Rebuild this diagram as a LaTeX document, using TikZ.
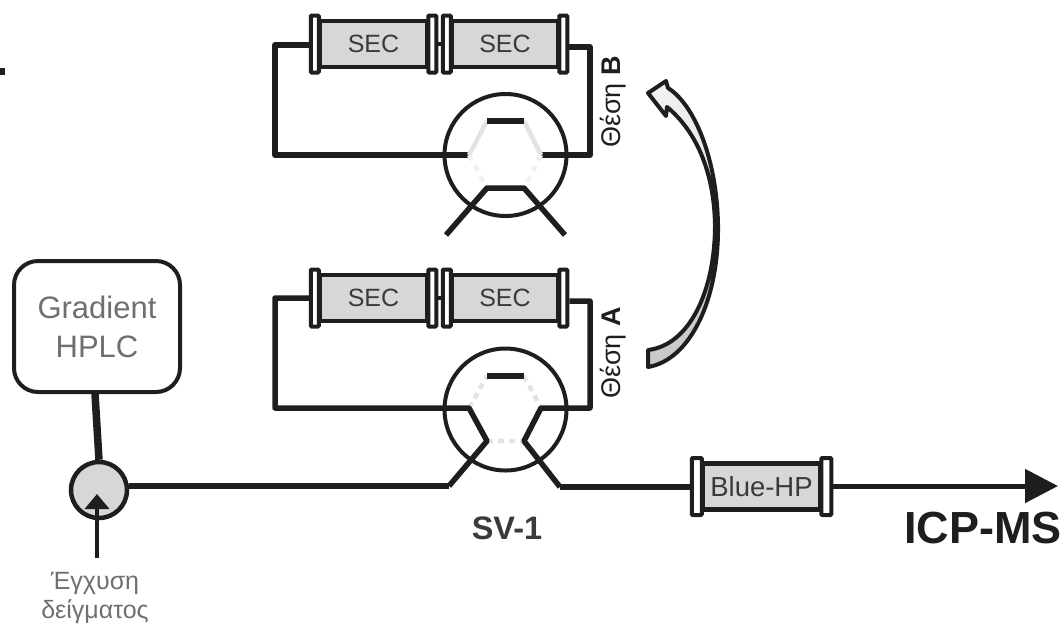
\documentclass[tikz,border=0pt]{standalone}
\usepackage{fontspec}
\setmainfont{Liberation Sans}
\usetikzlibrary{arrows.meta,calc}
\definecolor{colfill}{HTML}{D6D7D9}
\definecolor{ink}{HTML}{1E1E1E}
\definecolor{softtext}{HTML}{3A3A3A}
\definecolor{greytext}{HTML}{6E6F71}
\definecolor{ghost}{HTML}{E2E3E4}
\definecolor{fainter}{HTML}{F1F1F2}
\tikzset{
  coltext/.style={font=\fontsize{25}{28}\selectfont,text=softtext},
  colbody/.style={draw=ink,line width=4.5pt,fill=colfill,inner sep=0pt,coltext,anchor=center},
  flange/.style={draw=ink,line width=4pt,fill=white,rounded corners=1pt,inner sep=0pt,minimum width=8pt,minimum height=57pt},
  tube/.style={draw=ink,line width=5.5pt,line join=round},
  valvecircle/.style={circle,draw=ink,line width=4pt,minimum size=122pt,inner sep=0pt},
  ghostline/.style={draw=ghost,line width=4.5pt},
  ghostdash/.style={draw=ghost,line width=4.5pt,dash pattern=on 6pt off 5pt},
  faintdash/.style={draw=fainter,line width=4.5pt,dash pattern=on 6pt off 6pt},
  bar/.style={draw=ink,line width=5.5pt},
  stub/.style={draw=ink,line width=5.5pt,line join=round},
  lab/.style={font=\fontsize{27}{30}\selectfont,text=ink,inner sep=0pt},
}
% name, centre x, centre y, inner width, text
\newcommand{\columnunit}[5]{%
  \node[colbody,minimum width=#4pt,minimum height=46pt] (#1) at (#2,#3) {#5};
  \node[flange,anchor=east] (#1L) at ($(#1.west)+(3,0)$) {};
  \node[flange,anchor=west] (#1R) at ($(#1.east)+(-3,0)$) {};
}
\begin{document}
\begin{tikzpicture}[x=1pt,y=-1pt]
\useasboundingbox (0,0) rectangle (1064,625);
\fill[ink] (0,68) rectangle (5,75);

% ---------- upper position B
\coordinate (bTL) at (275,45);
\coordinate (bBL) at (275,155);
\coordinate (bTR) at (590,47);
\coordinate (bBR) at (590,155);
\coordinate (bA) at (487,121);
\coordinate (bB) at (524,121);
\coordinate (bC) at (541,155);
\coordinate (bD) at (524,188);
\coordinate (bE) at (487,188);
\coordinate (bF) at (469,155);
\coordinate (bOutL) at (446,235);
\coordinate (bOutR) at (565,235);
\columnunit{secBa}{373.5}{44}{107}{SEC}
\columnunit{secBb}{505}{44}{106}{SEC}
\draw[draw=ink,line width=3.5pt] (secBaR.east) -- (secBbL.west);
\node[valvecircle] (valveB) at (505.5,155) {};
\draw[tube] (secBaL.west |- bTL) -- (bTL) -- (bBL) -- (bF);
\draw[tube] (secBbR.east |- bTR) -- (bTR) -- (bBR) -- (bC);
\draw[ghostline] (bF) -- (bA) (bB) -- (bC);
\draw[faintdash] (bF) -- (bE) (bC) -- (bD);
\draw[bar] (bA) -- (bB);
\draw[stub] (bOutL) -- (bE) -- (bD) -- (bOutR);
\node[lab,rotate=90] (labB) at (613,102) {Θέση \textbf{B}};

% ---------- lower position A
\coordinate (aTL) at (275,298);
\coordinate (aBL) at (275,408);
\coordinate (aTR) at (590,301);
\coordinate (aBR) at (590,408);
\coordinate (aA) at (487,376);
\coordinate (aB) at (524,376);
\coordinate (aC) at (541,408);
\coordinate (aD) at (524,441);
\coordinate (aE) at (487,441);
\coordinate (aF) at (469,408);
\coordinate (aOutL) at (449,486);
\coordinate (aOutR) at (560,487);
\columnunit{secAa}{373.5}{298}{107}{SEC}
\columnunit{secAb}{505}{298}{106}{SEC}
\draw[draw=ink,line width=3.5pt] (secAaR.east) -- (secAbL.west);
\node[valvecircle] (valveA) at (505.5,409.5) {};
\draw[ghostdash] (aF) -- (aA) (aB) -- (aC) (aE) -- (aD);
\draw[bar] (aA) -- (aB);
\draw[tube] (secAaL.west |- aTL) -- (aTL) -- (aBL) -- (aF) -- (aE) -- (aOutL);
\draw[tube] (secAbR.east |- aTR) -- (aTR) -- (aBR) -- (aC) -- (aD) -- (aOutR);
\node[lab,rotate=90] (labA) at (613,353) {Θέση \textbf{A}};
\node[font=\bfseries\fontsize{32.5}{36}\selectfont,text=softtext,inner sep=0pt] (sv) at (507,528) {SV-1};

% ---------- HPLC and injector
\node[draw=ink,line width=4pt,rounded corners=24pt,minimum width=166pt,minimum height=131pt,inner sep=0pt,
      align=center,font=\fontsize{31}{39}\selectfont,text=greytext] (hplc) at (97,326.5) {Gradient\hspace{12pt}\\HPLC};
\node[circle,draw=ink,line width=4.5pt,fill=colfill,minimum size=56pt,inner sep=0pt] (inj) at (99,490) {};
\draw[draw=ink,line width=7.5pt] (hplc.south -| 95,0) -- (inj.north);
\coordinate (injFoot) at (97,558);
\coordinate (injTip) at (97,494);
\draw[draw=ink,line width=4pt,-{Triangle[length=15pt,width=24pt]}] (injFoot) -- (injTip);
\node[align=center,font=\fontsize{25}{29}\selectfont,text=greytext,inner sep=0pt] (inject) at (95,598) {Έγχυση\hspace{6pt}\\δείγματος};

% ---------- main line
\draw[tube] (inj.east |- 0,486) -- (aOutL);
\node[colbody,minimum width=117pt,minimum height=46pt,font=\fontsize{27.5}{30}\selectfont] (blue) at (761.5,486.5) {Blue-HP};
\node[flange,anchor=east,minimum width=10pt] (blueL) at ($(blue.west)+(3,0)$) {};
\node[flange,anchor=west,minimum width=10pt] (blueR) at ($(blue.east)+(-3,0)$) {};
\draw[tube] (aOutR) -- (blueL.west |- aOutR);
\coordinate (out) at (1058,486);
\draw[draw=ink,line width=5pt,-{Triangle[length=33pt,width=33pt]}] (blueR.east |- out) -- (out);
\node[font=\bfseries\fontsize{45}{50}\selectfont,text=ink,inner sep=0pt] (icp) at (983,528) {ICP-MS};

% ---------- curved arrow
\shade[top color=white!95!black,bottom color=black!22,draw=ink,line width=4pt,line join=round]
  (648,367) .. controls (690,360) and (719,300) .. (718,225)
  .. controls (717,160) and (695,105) .. (668,88)
  -- (666,81) -- (648,93) -- (666,116) -- (667,107)
  .. controls (695,130) and (714,170) .. (715,225)
  .. controls (715,290) and (690,345) .. (648,350) -- cycle;
\end{tikzpicture}
\end{document}
